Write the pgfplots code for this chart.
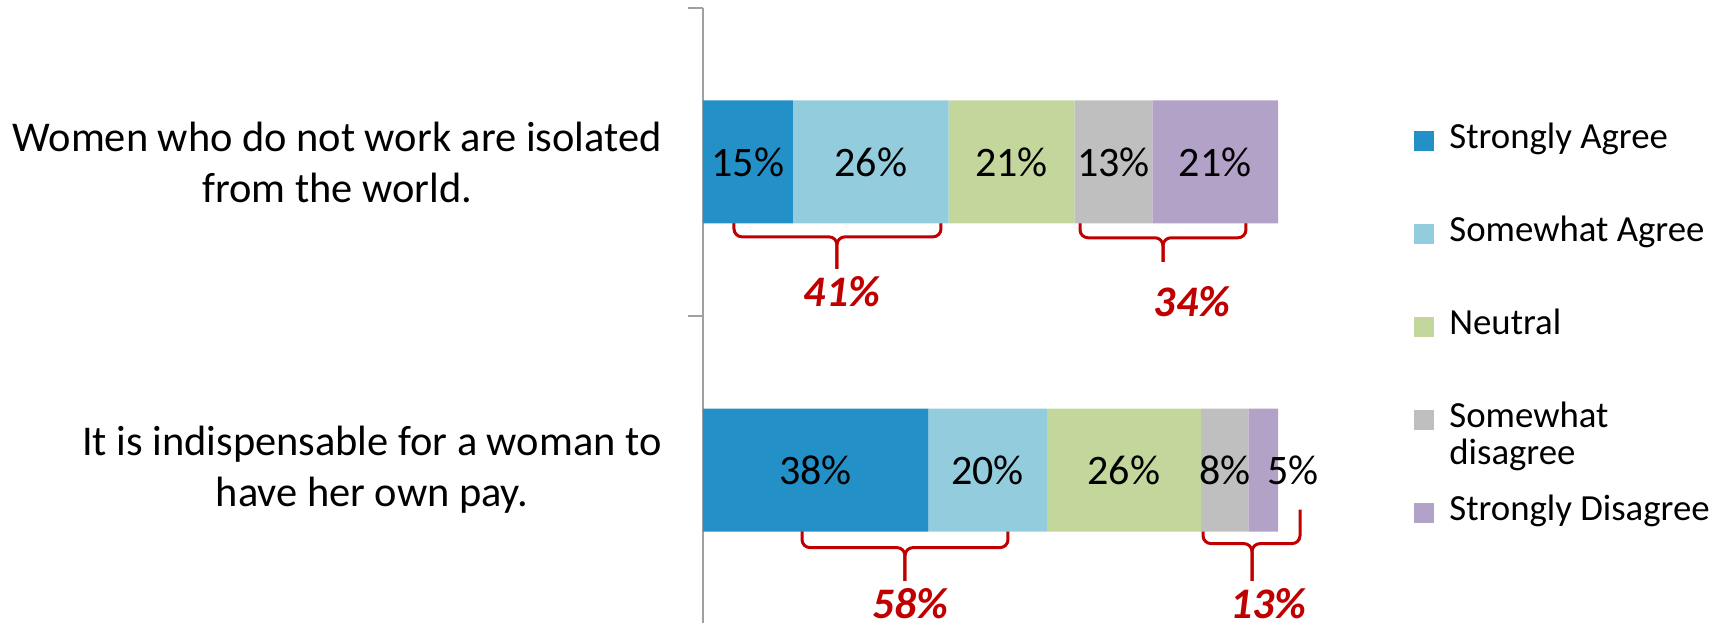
\documentclass[border=0pt]{standalone}
\usepackage{fontspec}
\setmainfont{Carlito}
\usepackage{pgfplots}
\usepackage{pgfplotstable}
\pgfplotsset{compat=1.18}

\definecolor{cSA}{HTML}{2391C8}
\definecolor{cSoA}{HTML}{93CDDD}
\definecolor{cNeu}{HTML}{C3D69B}
\definecolor{cSoD}{HTML}{BFBFBF}
\definecolor{cSD}{HTML}{B3A2C7}
\definecolor{bracered}{HTML}{C00000}
\definecolor{axgray}{HTML}{A0A0A0}

% the one legend entry on two lines
\protected\def\TwoLine{\smash{\fontsize{18.4}{18.6}\selectfont
  \begin{tabular}[t]{@{}l@{}}Somewhat\\disagree\end{tabular}}}

\tikzset{
  brace/.style={draw=bracered, line width=1.5pt, rounded corners=4pt},
  net/.style={font=\fontsize{21.8}{26}\selectfont\bfseries\itshape,
    text=bracered, inner sep=0pt},
}

% y=1: isolated, y=0: own pay; x = share of the 100% bar, lab = printed value
\pgfplotstableread{
y x lab
1 15.63 15
0 39.18 38
}\tSA
\pgfplotstableread{
y x lab
1 27.08 26
0 20.62 20
}\tSoA
\pgfplotstableread{
y x lab
1 21.88 21
0 26.80 26
}\tNeu
\pgfplotstableread{
y x lab
1 13.54 13
0 8.25 8
}\tSoD
\pgfplotstableread{
y x lab
1 21.88 21
0 5.15 5
}\tSD

\begin{document}
\begin{tikzpicture}
\useasboundingbox (0,0) rectangle (859.5pt,311pt);
\begin{axis}[
    at={(351.5pt,-1pt)}, anchor=south west,
    scale only axis,
    width=287.5pt, height=308pt,
    xbar stacked,
    bar width=61.5pt,
    xmin=0, xmax=100,
    ymin=-0.5, ymax=1.5,
    enlargelimits=false,
    clip=false,
    axis x line=none,
    axis y line*=left,
    y axis line style={draw=axgray, line width=1pt},
    ytick={0,1},
    yticklabels={{It is indispensable for a woman to\\have her own pay.},
                 {Women who do not work are isolated\\from the world.}},
    major tick length=0pt,
    yticklabel style={font=\fontsize{21.2}{25.5}\selectfont, align=center,
        anchor=east, inner sep=0pt, xshift=-20.5pt},
    extra y ticks={-0.5,0.5,1.5},
    extra y tick labels={},
    extra y tick style={major tick length=7.5pt, tick align=outside,
        tick style={draw=axgray, line width=1pt}},
    /pgf/number format/assume math mode=true,
    point meta=explicit,
    nodes near coords={\pgfmathprintnumber{\pgfplotspointmeta}\%},
    nodes near coords style={font=\fontsize{21}{25}\selectfont, text=black},
    legend style={draw=none, fill=none, inner sep=0pt,
        at={(1.2365,0.818)}, anchor=north west,
        row sep=26.5pt, column sep=5.5pt,
        nodes={text height=12pt, text depth=4pt},
        font=\fontsize{18.4}{22}\selectfont},
    legend cell align=left,
    legend image code/.code={\fill[#1] (0pt,-5pt) rectangle (10pt,5pt);},
]
\addplot[fill=cSA, draw=none] table[x=x, y=y, meta=lab] {\tSA};
\addlegendentry{Strongly Agree}
\addplot[fill=cSoA, draw=none] table[x=x, y=y, meta=lab] {\tSoA};
\addlegendentry{Somewhat Agree}
\addplot[fill=cNeu, draw=none] table[x=x, y=y, meta=lab] {\tNeu};
\addlegendentry{Neutral}
\addplot[fill=cSoD, draw=none] table[x=x, y=y, meta=lab] {\tSoD};
\addlegendentry{\TwoLine}
% the 5% label of the lower bar does not fit its segment and sits to its right
\addplot[fill=cSD, draw=none,
    visualization depends on={y \as \ry},
    nodes near coords style={xshift={(1-\ry)*14.75pt}}]
    table[x=x, y=y, meta=lab] {\tSD};
\addlegendentry{Strongly Disagree}

% braces and net shares
\draw[brace] (5.39,0.862) |- (23.30,0.757) -- (23.30,0.653);
\draw[brace] (41.39,0.862) |- (23.30,0.757) -- (23.30,0.653);
\draw[brace] (65.57,0.832) |- (80.00,0.754) -- (80.00,0.676);
\draw[brace] (94.43,0.832) |- (80.00,0.754) -- (80.00,0.676);
\draw[brace] (17.22,-0.155) |- (35.13,-0.252) -- (35.13,-0.360);
\draw[brace] (53.04,-0.155) |- (35.13,-0.252) -- (35.13,-0.360);
\draw[brace] (86.96,-0.129) |- (95.48,-0.239) -- (95.48,-0.360);
\draw[brace] (103.83,-0.129) |- (95.48,-0.239) -- (95.48,-0.360);
\node[net] at (24.17,0.578) {41\%};
\node[net] at (85.04,0.546) {34\%};
\node[net] at (36.00,-0.435) {58\%};
\node[net] at (98.26,-0.435) {13\%};
\end{axis}
\end{tikzpicture}
\end{document}
